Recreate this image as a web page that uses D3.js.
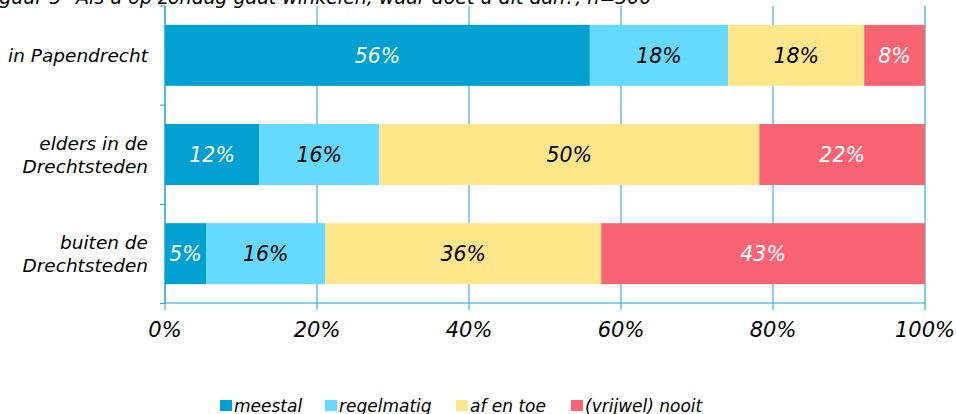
<!DOCTYPE html>
<html>
<head>
<meta charset="utf-8">
<script src="https://cdn.jsdelivr.net/npm/d3@7"></script>
<style>
  body { margin: 0; background: #fff; }
  svg text { font-family: "DejaVu Sans", Verdana, sans-serif; font-style: italic; }
</style>
</head>
<body>
<svg id="chart" width="956" height="414"></svg>
<script>
// data
const titleNumber = "Figuur 5";
const titleText = "Als u op zondag gaat winkelen, waar doet u dit dan?, n=300";
const categories = [["in Papendrecht"], ["elders in de", "Drechtsteden"], ["buiten de", "Drechtsteden"]];
const seriesNames = ["meestal", "regelmatig", "af en toe", "(vrijwel) nooit"];
const meestal = [55.9, 12.4, 5.4];
const regelmatig = [18.2, 15.8, 15.7];
const afEnToe = [17.9, 50.0, 36.3];
const nooit = [8.0, 21.8, 42.6];
const xTicks = [0, 20, 40, 60, 80, 100];

const colors = ["#00a0d1", "#66d9ff", "#ffe68a", "#f96473"];
const labelColors = ["#fff", "#000", "#000", "#fff"];

const svg = d3.select("#chart");
const margin = { top: 6, left: 165, right: 31, bottom: 111 };
const width = 956 - margin.left - margin.right;
const height = 414 - margin.top - margin.bottom;
const axisColor = "#1ba3d3";

// title, clipped at the top like the reference
svg.append("text")
  .attr("x", -17).attr("y", 4)
  .attr("font-size", 19)
  .attr("fill", "#000")
  .text(titleNumber);
svg.append("text")
  .attr("x", 76).attr("y", 4)
  .attr("font-size", 19)
  .attr("fill", "#000")
  .text(titleText);

const g = svg.append("g").attr("transform", `translate(${margin.left},${margin.top})`);

const x = d3.scaleLinear().domain([0, 100]).range([0, width]);
const y = d3.scaleBand().domain(d3.range(categories.length)).range([0, height])
  .paddingInner(0.385).paddingOuter(0.19);

// gridlines
g.selectAll(".grid").data(xTicks).enter().append("line")
  .attr("x1", d => x(d)).attr("x2", d => x(d))
  .attr("y1", 0).attr("y2", height + 7)
  .attr("stroke", d => d === 100 ? "#4cc3e6" : axisColor)
  .attr("stroke-width", d => d === 100 ? 1.5 : 1);

// stacked bars
const rows = categories.map((c, i) => [meestal[i], regelmatig[i], afEnToe[i], nooit[i]]);
rows.forEach((vals, i) => {
  let acc = 0;
  vals.forEach((v, s) => {
    const x0 = acc;
    acc += v;
    g.append("rect")
      .attr("x", x(x0)).attr("y", y(i))
      .attr("width", x(acc) - x(x0)).attr("height", y.bandwidth())
      .attr("fill", colors[s]);
    g.append("text")
      .attr("x", x(x0 + v / 2)).attr("y", y(i) + y.bandwidth() / 2)
      .attr("dy", "0.36em")
      .attr("text-anchor", "middle")
      .attr("font-size", 20.5)
      .attr("fill", labelColors[s])
      .text(Math.round(v) + "%");
  });
});

// left axis line with ticks at band boundaries
g.append("line").attr("x1", 0).attr("x2", 0).attr("y1", 0).attr("y2", height)
  .attr("stroke", axisColor);
d3.range(categories.length + 1).forEach(i => {
  const yy = i * y.step();
  g.append("line").attr("x1", -5).attr("x2", 0).attr("y1", yy).attr("y2", yy)
    .attr("stroke", axisColor);
});

// bottom axis line
g.append("line").attr("x1", 0).attr("x2", width).attr("y1", height).attr("y2", height)
  .attr("stroke", axisColor);

// x tick labels
g.selectAll(".xl").data(xTicks).enter().append("text")
  .attr("x", d => x(d)).attr("y", height + 34)
  .attr("text-anchor", "middle")
  .attr("font-size", 21)
  .attr("fill", "#000")
  .text(d => d + "%");

// category labels
categories.forEach((lines, i) => {
  const cy = y(i) + y.bandwidth() / 2;
  const t = g.append("text")
    .attr("x", -17)
    .attr("text-anchor", "end")
    .attr("font-size", 18.5)
    .attr("fill", "#000");
  lines.forEach((l, k) => {
    t.append("tspan")
      .attr("x", -17)
      .attr("y", cy + (k - (lines.length - 1) / 2) * 23)
      .attr("dy", "0.36em")
      .text(l);
  });
});

// legend
const legendX = [220, 325, 456, 571];
const legend = svg.append("g").attr("transform", "translate(0,406)");
seriesNames.forEach((name, s) => {
  legend.append("rect")
    .attr("x", legendX[s]).attr("y", -6)
    .attr("width", 12).attr("height", 11)
    .attr("fill", colors[s]);
  legend.append("text")
    .attr("x", legendX[s] + 14).attr("y", 0)
    .attr("dy", "0.36em")
    .attr("font-size", 17)
    .attr("fill", "#000")
    .text(name);
});
</script>
</body>
</html>
